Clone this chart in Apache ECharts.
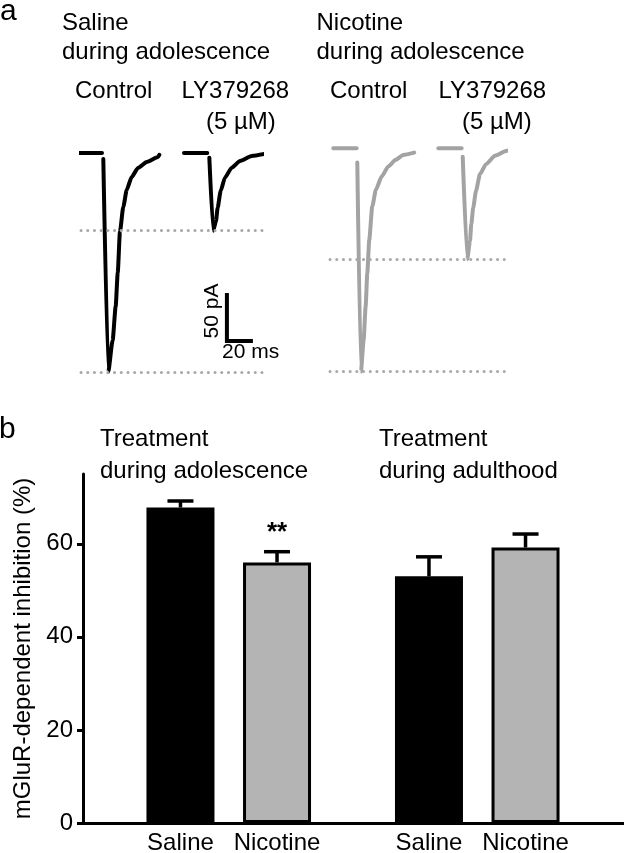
<!DOCTYPE html>
<html><head><meta charset="utf-8">
<script src="https://cdn.jsdelivr.net/npm/echarts@6/dist/echarts.min.js"></script>
<style>html,body{margin:0;padding:0;background:#fff}#c{width:624px;height:853px}</style>
</head><body><div id="c"></div>
<script>
// ================= DATA =================
// Panel b: mGluR-dependent inhibition (%), mean and SEM
const groupNames = ['adolescence', 'adulthood'];
const treatments = ['Saline', 'Nicotine'];
const salineInhibition = [67.8, 53.0];
const salineSEM = [1.4, 4.2];
const nicotineInhibition = [56.0, 59.2];
const nicotineSEM = [2.3, 2.9];
const nicotineSignificance = ['**', ''];
const yTickValues = [0, 20, 40, 60];

// Panel a: example EPSC traces (time in ms, current in pA); null = blanked stimulus artefact
const salineControlTime    = [0, 17.7, 18.2, 18.7, 22.5, 25.9, 28.2, 29.8, 31.5, 34.1, 36.7, 40.5, 45.4, 52.1, 60.8, 61.8];
const salineControlCurrent = [0, 0, null, -6.3, -228, -195, -160, -125, -82, -56, -38.5, -25, -15.6, -9.4, -4.2, -2];
const salineLYTime         = [0, 17.9, 18.7, 19.5, 22.5, 24.6, 25.9, 28.2, 31.5, 36.7, 43.1, 52.1, 63.1];
const salineLYCurrent      = [0, 0, null, -4.9, -81, -71, -57, -39.6, -25.7, -15.3, -8.3, -3.1, -0.7];
const nicotineControlTime    = [0, 18, 18.2, 18.5, 21.3, 23.4, 24.9, 26.2, 27.7, 30, 32.8, 37.2, 42.3, 48, 53.8, 62.3];
const nicotineControlCurrent = [0, 0, null, -15, -232.7, -199.7, -165, -130, -95.5, -60.8, -43.4, -29.6, -19.2, -12.2, -7, -4.6];
const nicotineLYTime         = [0, 18, 18.4, 18.8, 22.3, 24.4, 25.4, 26.9, 29, 32.1, 36.7, 43.6, 52.6, 61.5];
const nicotineLYCurrent      = [0, 0, null, -9, -115.6, -96.6, -79, -61.9, -44.5, -27, -16.7, -8, -2.8, -1];

const scaleBarCurrent = 50; // pA
const scaleBarTime = 20;    // ms

// ================= STYLE / LAYOUT =================
const FONT = '"Liberation Sans", Arial, Helvetica, sans-serif';
const BLACK = '#000';
const GRAY_TRACE = '#a3a3a3';
const GRAY_BAR = '#b4b4b4';
const GRAY_DOT = '#a9a9a9';
const BAR_W = 68;
const BAR_GAP = 0.42;
const scaleBarCorner = [113.8, -195.8]; // anchor in saline-control axis units

function pairs(t, v) { return t.map((x, i) => [x, v[i] == null ? '-' : v[i]]); }
function minOf(v) { return Math.min.apply(null, v.filter(x => x != null)); }

function trace(name, t, v, color, xi, yi, withPeakLine) {
  const s = {
    name, type: 'line', xAxisIndex: xi, yAxisIndex: yi, data: pairs(t, v),
    showSymbol: false, symbol: 'none', clip: false, connectNulls: false, smooth: 0.2, smoothMonotone: 'x',
    lineStyle: { color, width: 4, cap: 'round', join: 'round' }, z: 3, silent: true
  };
  if (withPeakLine) {
    s.markLine = {
      silent: true, symbol: 'none', label: { show: false }, animation: false,
      lineStyle: { color: GRAY_DOT, width: 3, type: [0.1, 6.6], cap: 'round' },
      data: [{ yAxis: minOf(v) }]
    };
  }
  return s;
}

function txt(text, x, y, size, extra) {
  return Object.assign({
    type: 'text', x, y, silent: true,
    style: Object.assign({ text, font: (extra && extra.bold ? 'bold ' : '') + size + 'px ' + FONT, fill: BLACK,
      textAlign: 'left', textVerticalAlign: 'middle', align: 'left', verticalAlign: 'middle' },
      extra && extra.style || {})
  }, extra && extra.el || {});
}

function errSeries(values, sems, sign, sig) {
  return {
    type: 'custom', xAxisIndex: 4, yAxisIndex: 2, z: 1, clip: false, silent: true,
    data: values.map((v, i) => [i, v, sems[i]]),
    renderItem: function (params, api) {
      const i = api.value(0), v = api.value(1), e = api.value(2);
      const base = api.coord([i, v]);
      const top = api.coord([i, v + e]);
      const x = base[0] + sign * BAR_W * (1 + BAR_GAP) / 2;
      const st = { stroke: BLACK, lineWidth: 3.5 };
      const children = [
        { type: 'line', shape: { x1: x, y1: base[1], x2: x, y2: top[1] }, style: st },
        { type: 'line', shape: { x1: x - 13, y1: top[1], x2: x + 13, y2: top[1] }, style: st }
      ];
      const s = sig && sig[params.dataIndex];
      if (s) {
        children.push({ type: 'text', x: x, y: top[1] - 19,
          style: { text: s, font: 'bold 26px ' + FONT, fill: BLACK, align: 'center', verticalAlign: 'middle' } });
      }
      return { type: 'group', children };
    }
  };
}

const hidden = { show: false };
const option = {
  animation: false,
  backgroundColor: '#fff',
  grid: [
    { left: 81, top: 140, width: 181, height: 240 },   // saline traces
    { left: 330, top: 140, width: 176, height: 240 },  // nicotine traces
    { left: 104.5, right: 22.5, top: 474, bottom: 30 },// bars
    { left: 83, right: 0, top: 474, bottom: 30 }       // visible axes
  ],
  xAxis: [
    { gridIndex: 0, type: 'value', min: 1.54, max: 140.8, show: false },
    { gridIndex: 0, type: 'value', min: -79.2, max: 60, show: false },
    { gridIndex: 1, type: 'value', min: -2.5, max: 132.9, show: false },
    { gridIndex: 1, type: 'value', min: -83.3, max: 52.1, show: false },
    { gridIndex: 2, type: 'category', data: groupNames, show: false },
    { gridIndex: 3, type: 'value', min: 0, max: 1,
      axisLine: { show: true, lineStyle: { color: BLACK, width: 3 } },
      axisTick: hidden, axisLabel: hidden, splitLine: hidden }
  ],
  yAxis: [
    { gridIndex: 0, type: 'value', min: -236.5, max: 13.5, show: false },
    { gridIndex: 1, type: 'value', min: -241.5, max: 8.5, show: false },
    { gridIndex: 2, type: 'value', min: 0, max: 75, show: false },
    { gridIndex: 3, type: 'value', min: 0, max: 75,
      axisLine: { show: true, lineStyle: { color: BLACK, width: 3 } },
      axisTick: { show: true, length: 6, lineStyle: { color: BLACK, width: 3 }, customValues: yTickValues },
      axisLabel: { show: true, color: BLACK, fontSize: 24, fontFamily: FONT, margin: 10, customValues: yTickValues },
      splitLine: hidden,
      name: 'mGluR-dependent inhibition (%)', nameLocation: 'middle', nameGap: 46,
      nameTextStyle: { color: BLACK, fontSize: 24, fontFamily: FONT } }
  ],
  series: [
    trace('Saline control', salineControlTime, salineControlCurrent, BLACK, 0, 0, true),
    trace('Saline LY379268', salineLYTime, salineLYCurrent, BLACK, 1, 0, true),
    trace('Nicotine control', nicotineControlTime, nicotineControlCurrent, GRAY_TRACE, 2, 1, true),
    trace('Nicotine LY379268', nicotineLYTime, nicotineLYCurrent, GRAY_TRACE, 3, 1, true),
    { name: 'scale bar', type: 'line', xAxisIndex: 0, yAxisIndex: 0, clip: false, silent: true,
      showSymbol: false, symbol: 'none',
      data: [[scaleBarCorner[0], scaleBarCorner[1] + scaleBarCurrent], scaleBarCorner,
             [scaleBarCorner[0] + scaleBarTime, scaleBarCorner[1]]],
      lineStyle: { color: BLACK, width: 4, cap: 'butt', join: 'miter' } },
    errSeries(salineInhibition, salineSEM, -1, null),
    errSeries(nicotineInhibition, nicotineSEM, 1, nicotineSignificance),
    { name: treatments[0], type: 'bar', xAxisIndex: 4, yAxisIndex: 2, data: salineInhibition, z: 2,
      barWidth: BAR_W, barGap: (BAR_GAP * 100) + '%', silent: true,
      itemStyle: { color: BLACK, borderColor: BLACK, borderWidth: 3 },
      label: { show: true, position: 'bottom', distance: 8, formatter: treatments[0], color: BLACK, fontSize: 24, fontFamily: FONT } },
    { name: treatments[1], type: 'bar', xAxisIndex: 4, yAxisIndex: 2, data: nicotineInhibition, z: 2,
      barWidth: BAR_W, barGap: (BAR_GAP * 100) + '%', silent: true,
      itemStyle: { color: GRAY_BAR, borderColor: BLACK, borderWidth: 3 },
      label: { show: true, position: 'bottom', distance: 8, formatter: treatments[1], color: BLACK, fontSize: 24, fontFamily: FONT } }
  ],
  graphic: [
    txt('a', 0, 11.6, 30),
    txt('Saline', 62, 23.4, 24),
    txt('during adolescence', 62, 52.7, 24),
    txt('Nicotine', 316.5, 23.4, 24),
    txt('during adolescence', 316.5, 52.7, 24),
    txt('Control', 75, 91.7, 24),
    txt('LY379268', 181.5, 91.7, 24),
    txt('(5 \u00b5M)', 206, 122.7, 24),
    txt('Control', 330, 91.7, 24),
    txt('LY379268', 438.5, 91.7, 24),
    txt('(5 \u00b5M)', 462, 122.7, 24),
    txt('50 pA', 212, 311, 21, { style: { align: 'center', textAlign: 'center' }, el: { rotation: Math.PI / 2 } }),
    txt('20 ms', 222, 352.7, 21),
    txt('b', -1, 429.6, 30),
    txt('Treatment', 100, 439.7, 24),
    txt('during adolescence', 100, 471.7, 24),
    txt('Treatment', 379, 439.7, 24),
    txt('during adulthood', 379, 471.7, 24)
  ]
};

const chart = echarts.init(document.getElementById('c'), null, { renderer: 'canvas' });
chart.setOption(option);
</script>
</body></html>
